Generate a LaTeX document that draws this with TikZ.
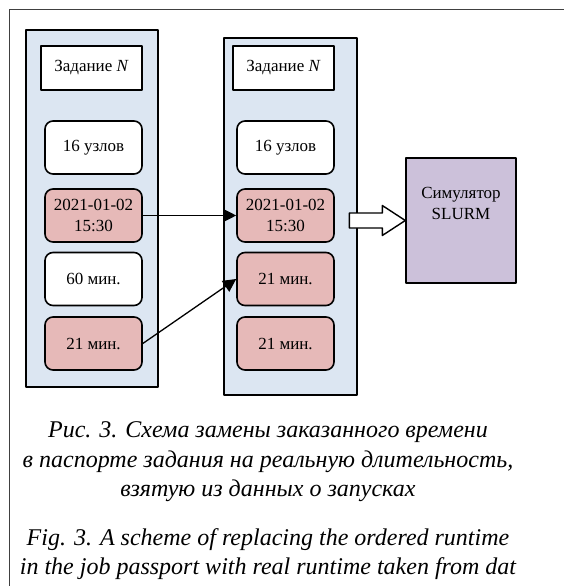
\documentclass[tikz,border=0pt]{standalone}
\usepackage{fontspec}
\setmainfont{Liberation Serif}
\usepackage{xcolor}
\usepackage{tikz}
\usetikzlibrary{arrows.meta,calc}
\definecolor{panelblue}{HTML}{DCE6F2}
\definecolor{fieldpink}{HTML}{E6B9B8}
\definecolor{simviolet}{HTML}{CCC1DA}

\begin{document}
\begin{tikzpicture}[line cap=round,line join=round,>={Triangle[length=13pt,width=13pt]},x=1pt,y=-1pt,
  panel/.style={draw,line width=1.3pt,fill=panelblue,inner sep=0pt},
  head/.style={draw,line width=1.4pt,fill=white,minimum width=101pt,minimum height=44pt,font=\fontsize{17}{20}\selectfont},
  field/.style={draw,line width=1.6pt,rounded corners=8pt,fill=white,minimum width=97pt,minimum height=53pt,align=center,font=\fontsize{17}{21}\selectfont},
  changed/.style={field,fill=fieldpink},
  simbox/.style={draw,line width=1.4pt,fill=simviolet,minimum width=110pt,minimum height=125pt},
  caption/.style={align=center,font=\fontsize{24}{29.5}\selectfont\itshape}]
\useasboundingbox (0,0) rectangle (563,586);
\draw[line width=1pt,black!75] (9,10) rectangle (620,640);
% two passports of the job
\node[panel,minimum width=132pt,minimum height=357pt] (lpanel) at (92,208.5) {};
\node[panel,minimum width=133pt,minimum height=357pt] (rpanel) at (290.5,216.5) {};
\node[head] (ljob) at (91.5,68) {Задание \textit{N}};
\node[field] (lnodes) at (93.5,147.5) {16 узлов};
\node[changed] (ldate) at (93.5,215.5) {2021-01-02\\15:30};
\node[field] (lorder) at (93.5,279) {60 мин.};
\node[changed] (lreal) at (93.5,343.5) {21 мин.};
\node[head] (rjob) at (283.5,68) {Задание \textit{N}};
\node[field] (rnodes) at (285.5,147.5) {16 узлов};
\node[changed] (rdate) at (285.5,215.5) {2021-01-02\\15:30};
\node[changed] (rorder) at (285.5,279) {21 мин.};
\node[changed] (rreal) at (285.5,343.5) {21 мин.};
\node[simbox,label={[align=center,yshift=17pt,font=\fontsize{17}{21}\selectfont]center:Симулятор\\SLURM}] (sim) at (461,220.5) {};
\draw[->,line width=1.3pt] (ldate.east) -- (rdate.west);
\draw[->,line width=1.3pt] (lreal.east) -- (rorder.west);
\draw[line width=1.4pt,fill=white] (sim.west) -- ++(-23,-15) -- ++(0,7.5) -- ++(-33,0) -- ++(0,15) -- ++(33,0) -- ++(0,7.5) -- cycle;
\node[caption] (caprus) at (268,462) {Рис. 3. Схема замены заказанного времени\\в паспорте задания на реальную длительность,\\взятую из данных о запусках};
\node[caption] (capeng) at (268,554) {Fig. 3. A scheme of replacing the ordered runtime\\in the job passport with real runtime taken from dat};
\end{tikzpicture}
\end{document}
